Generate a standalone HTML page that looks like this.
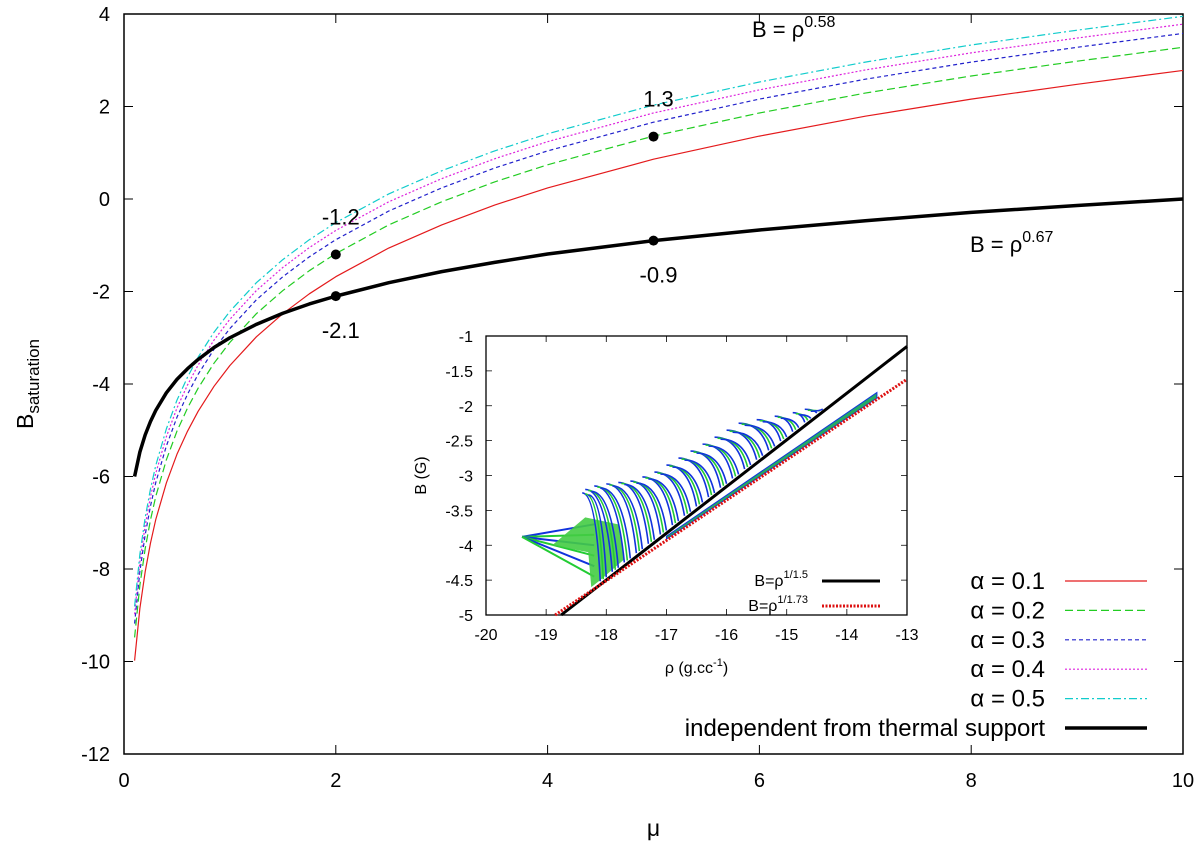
<!DOCTYPE html>
<html><head><meta charset="utf-8"><style>
html,body{margin:0;padding:0;background:#fff;}
svg{display:block;font-family:"Liberation Sans",sans-serif;}
</style></head><body>
<svg id="chart" width="1200" height="849" viewBox="0 0 1200 849"></svg>
<script>
const muVals=[0.1,0.15,0.2,0.25,0.3,0.4,0.5,0.6,0.7,0.85,1,1.25,1.5,1.75,2,2.5,3,3.5,4,5,6,7,8,9,10];
const alpha01=[-9.98,-8.85,-8.06,-7.44,-6.93,-6.14,-5.52,-5.02,-4.59,-4.05,-3.6,-2.98,-2.48,-2.05,-1.68,-1.06,-0.56,-0.13,0.24,0.86,1.36,1.79,2.16,2.48,2.78];
const alpha02=[-9.48,-8.35,-7.56,-6.94,-6.43,-5.64,-5.02,-4.52,-4.09,-3.55,-3.1,-2.48,-1.98,-1.55,-1.18,-0.56,-0.06,0.37,0.74,1.36,1.86,2.29,2.66,2.98,3.28];
const alpha03=[-9.18,-8.05,-7.26,-6.64,-6.13,-5.34,-4.72,-4.22,-3.79,-3.25,-2.8,-2.18,-1.68,-1.25,-0.88,-0.26,0.24,0.67,1.04,1.66,2.16,2.59,2.96,3.28,3.58];
const alpha04=[-8.98,-7.85,-7.06,-6.44,-5.93,-5.14,-4.52,-4.02,-3.59,-3.05,-2.6,-1.98,-1.48,-1.05,-0.68,-0.06,0.44,0.87,1.24,1.86,2.36,2.79,3.16,3.48,3.78];
const alpha05=[-8.81,-7.68,-6.89,-6.27,-5.76,-4.97,-4.35,-3.85,-3.42,-2.88,-2.43,-1.81,-1.31,-0.88,-0.51,0.11,0.61,1.04,1.41,2.03,2.53,2.96,3.33,3.65,3.95];
const thermal=[-6,-5.47,-5.1,-4.81,-4.57,-4.19,-3.9,-3.67,-3.47,-3.21,-3,-2.71,-2.47,-2.27,-2.1,-1.81,-1.57,-1.37,-1.19,-0.9,-0.67,-0.47,-0.29,-0.14,0];
const xTicks=[0,2,4,6,8,10];
const yTicks=[4,2,0,-2,-4,-6,-8,-10,-12];
const markX=[2,5,2,5];
const markY=[-1.2,1.35,-2.1,-0.9];
const markLabels=["-1.2","1.3","-2.1","-0.9"];
const insetXTicks=[-20,-19,-18,-17,-16,-15,-14,-13];
const insetYTicks=[-1,-1.5,-2,-2.5,-3,-3.5,-4,-4.5,-5];
const fitRho=[-18.75,-13];
const fit15=[-5,-1.15];
const fitRhoRed=[-18.85,-13];
const fit173=[-5,-1.62];
const stripeBaseRho=[-18.1,-17.9,-17.7,-17.5,-17.3,-17.1,-16.9,-16.7,-16.5,-16.3,-16.1,-15.9,-15.7,-15.5,-15.3,-15.1,-14.9,-14.7,-14.5];
const stripeTopRho=[-18.4,-18.35,-18.2,-18.0,-17.8,-17.6,-17.4,-17.2,-17.0,-16.8,-16.6,-16.4,-16.2,-16.0,-15.8,-15.5,-15.2,-14.9,-14.7];
const stripeTopB=[-3.25,-3.2,-3.15,-3.12,-3.1,-3.08,-3.02,-2.95,-2.85,-2.75,-2.65,-2.55,-2.45,-2.35,-2.25,-2.2,-2.15,-2.1,-2.05];
const fanEndB=[-3.7,-3.85,-4.0,-4.15,-4.3,-4.45];

const NS="http://www.w3.org/2000/svg";
const svg=document.getElementById('chart');
function el(tag,attrs,parent){const e=document.createElementNS(NS,tag);for(const k in attrs)e.setAttribute(k,attrs[k]);(parent||svg).appendChild(e);return e;}
const L=124,R=1183,T=14,B=754;
const xs=v=>L+(v-0)/10*(R-L);
const ys=v=>T+(4-v)/16*(B-T);
let e=el('rect',{x:L,y:T,width:R-L,height:B-T,fill:'none',stroke:'#000','stroke-width':1.5});


xTicks.forEach(t=>{
  let tk=el('path',{d:`M${xs(t)},${B}v-9M${xs(t)},${T}v9`,stroke:'#000','stroke-width':1});
  
  
  let tx=el('text',{x:xs(t),y:B+33,'font-size':20,'text-anchor':'middle'});tx.textContent=t;
  
  
});
yTicks.forEach(t=>{
  let tk=el('path',{d:`M${L},${ys(t)}h9M${R},${ys(t)}h-9`,stroke:'#000','stroke-width':1});
  
  
  let tx=el('text',{x:L-14,y:ys(t)+7,'font-size':20,'text-anchor':'end'});tx.textContent=t;
  
  
});
let xt=el('text',{x:(L+R)/2,y:836,'font-size':23,'text-anchor':'middle'});xt.textContent='μ';


let yt=el('text',{x:0,y:0,'font-size':23,'text-anchor':'middle',transform:'translate(33,384) rotate(-90)'});
yt.innerHTML='B<tspan font-size="17" dy="6">saturation</tspan>';



const series=[
 {d:alpha01,c:'#e41a1c',dash:'',w:1.2,n:'α = 0.1',name:'alpha-0.1-line'},
 {d:alpha02,c:'#22cc22',dash:'8,4',w:1.2,n:'α = 0.2',name:'alpha-0.2-line'},
 {d:alpha03,c:'#2222cc',dash:'4,3',w:1.2,n:'α = 0.3',name:'alpha-0.3-line'},
 {d:alpha04,c:'#dd22dd',dash:'2,2',w:1.2,n:'α = 0.4',name:'alpha-0.4-line'},
 {d:alpha05,c:'#11cccc',dash:'8,3,2,3',w:1.2,n:'α = 0.5',name:'alpha-0.5-line'},
 {d:thermal,c:'#000',dash:'',w:3.5,n:'independent from thermal support',name:'thermal-support-line'}
];
series.forEach((s,i)=>{
  const pts=muVals.map((m,j)=>xs(m)+','+ys(s.d[j])).join(' ');
  let p=el('polyline',{points:pts,fill:'none',stroke:s.c,'stroke-width':s.w,'stroke-dasharray':s.dash,'stroke-linejoin':'round'});
  
  
  const ly=581+i*29.4;
  let lt=el('text',{x:1045,y:ly+8,'font-size':24,'text-anchor':'end'});lt.textContent=s.n;
  
  
  let ll=el('line',{x1:1065,x2:1147,y1:ly,y2:ly,stroke:s.c,'stroke-width':s.w,'stroke-dasharray':s.dash});
  
  
});
markX.forEach((m,i)=>{
  let c=el('circle',{cx:xs(m),cy:ys(markY[i]),r:5,fill:'#000'});
  
  
  const above=(i<2);
  let t=el('text',{x:xs(m)+5,y:above?ys(markY[i])-30:ys(markY[i])+42,'font-size':22,'text-anchor':'middle'});
  t.textContent=markLabels[i];
  
  
});
let a1=el('text',{x:752,y:37,'font-size':22});a1.innerHTML='B = ρ<tspan font-size="16" dy="-10">0.58</tspan>';


let a2=el('text',{x:970,y:252,'font-size':22});a2.innerHTML='B = ρ<tspan font-size="16" dy="-10">0.67</tspan>';



// inset
const iL=486,iR=907,iT=336,iB=615;
const ix=v=>iL+(v+20)/7*(iR-iL);
const iy=v=>iT+(-1-v)/4*(iB-iT);
let ir=el('rect',{x:iL,y:iT,width:iR-iL,height:iB-iT,fill:'#fff',stroke:'#000','stroke-width':1.3});


insetXTicks.forEach(t=>{
  let tk=el('path',{d:`M${ix(t)},${iB}v-6M${ix(t)},${iT}v6`,stroke:'#000','stroke-width':0.8});
  
  
  let tx=el('text',{x:ix(t),y:iB+25,'font-size':16,'text-anchor':'middle'});tx.textContent=t;
  
  
});
insetYTicks.forEach(t=>{
  let tk=el('path',{d:`M${iL},${iy(t)}h6M${iR},${iy(t)}h-6`,stroke:'#000','stroke-width':0.8});
  
  
  let tx=el('text',{x:iL-13,y:iy(t)+6,'font-size':16,'text-anchor':'end'});tx.textContent=t;
  
  
});
let ixt=el('text',{x:(iL+iR)/2,y:iB+58,'font-size':16,'text-anchor':'middle'});ixt.innerHTML='ρ (g.cc<tspan font-size="11" dy="-7">-1</tspan><tspan dy="7">)</tspan>';


let iyt=el('text',{x:0,y:0,'font-size':16,'text-anchor':'middle',transform:`translate(${iL-60},${(iT+iB)/2}) rotate(-90)`});iyt.textContent='B (G)';


const fitB=r=>fit15[0]+(r-fitRho[0])*(fit15[1]-fit15[0])/(fitRho[1]-fitRho[0]);
const redB=r=>fit173[0]+(r-fitRhoRed[0])*(fit173[1]-fit173[0])/(fitRhoRed[1]-fitRhoRed[0]);
// left fan
fanEndB.forEach((b,i)=>{
  let p=el('line',{x1:ix(-19.4),y1:iy(-3.88),x2:ix(-18.2),y2:iy(b),stroke:(i%2?'#22cc33':'#1133dd'),'stroke-width':2});
  
  
});
let blob=el('path',{d:`M${ix(-18.35)},${iy(-3.6)} L${ix(-17.8)},${iy(-3.7)} L${ix(-17.7)},${iy(-4.2)} L${ix(-18.1)},${iy(-4.5)} L${ix(-18.25)},${iy(-4.6)} L${ix(-18.3)},${iy(-4.1)} L${ix(-18.9)},${iy(-4.0)} Z`,fill:'#44cc44',opacity:0.9});


// stripes
stripeBaseRho.forEach((r,i)=>{
  const x0=ix(r),y0=iy(fitB(r)+0.05),x1=ix(stripeTopRho[i]),y1=iy(stripeTopB[i]);
  const cx=x0-0.25*(x0-x1),cy=y1;
  [0,1,2].forEach(k=>{
    let p=el('path',{d:`M${x0+k*3},${y0-k*2} Q${cx+k*3},${cy+k} ${x1+k*3},${y1+k}`,fill:'none',stroke:(k%2?'#22cc33':'#1133dd'),'stroke-width':1.6});
    
    
  });
});
// tail toward high density
let tail=el('path',{d:`M${ix(-17)},${iy(redB(-17)+0.06)} L${ix(-13.5)},${iy(redB(-13.5)+0.1)} L${ix(-13.5)},${iy(redB(-13.5)+0.02)} L${ix(-17)},${iy(redB(-17)+0.02)} Z`,fill:'#22aa66',stroke:'#1133dd','stroke-width':1});


let f1=el('line',{x1:ix(fitRho[0]),y1:iy(fit15[0]),x2:ix(fitRho[1]),y2:iy(fit15[1]),stroke:'#000','stroke-width':3});


let f2=el('line',{x1:ix(fitRhoRed[0]),y1:iy(fit173[0]),x2:ix(fitRhoRed[1]),y2:iy(fit173[1]),stroke:'#dd1111','stroke-width':3,'stroke-dasharray':'2,1.5'});


let il1=el('text',{x:808,y:586,'font-size':16,'text-anchor':'end'});il1.innerHTML='B=ρ<tspan font-size="11" dy="-8">1/1.5</tspan>';


let il2=el('text',{x:808,y:611,'font-size':16,'text-anchor':'end'});il2.innerHTML='B=ρ<tspan font-size="11" dy="-8">1/1.73</tspan>';


let is1=el('line',{x1:822,x2:880,y1:581,y2:581,stroke:'#000','stroke-width':3});


let is2=el('line',{x1:822,x2:880,y1:606,y2:606,stroke:'#dd1111','stroke-width':3,'stroke-dasharray':'2,1.5'});


</script>
</body></html>
